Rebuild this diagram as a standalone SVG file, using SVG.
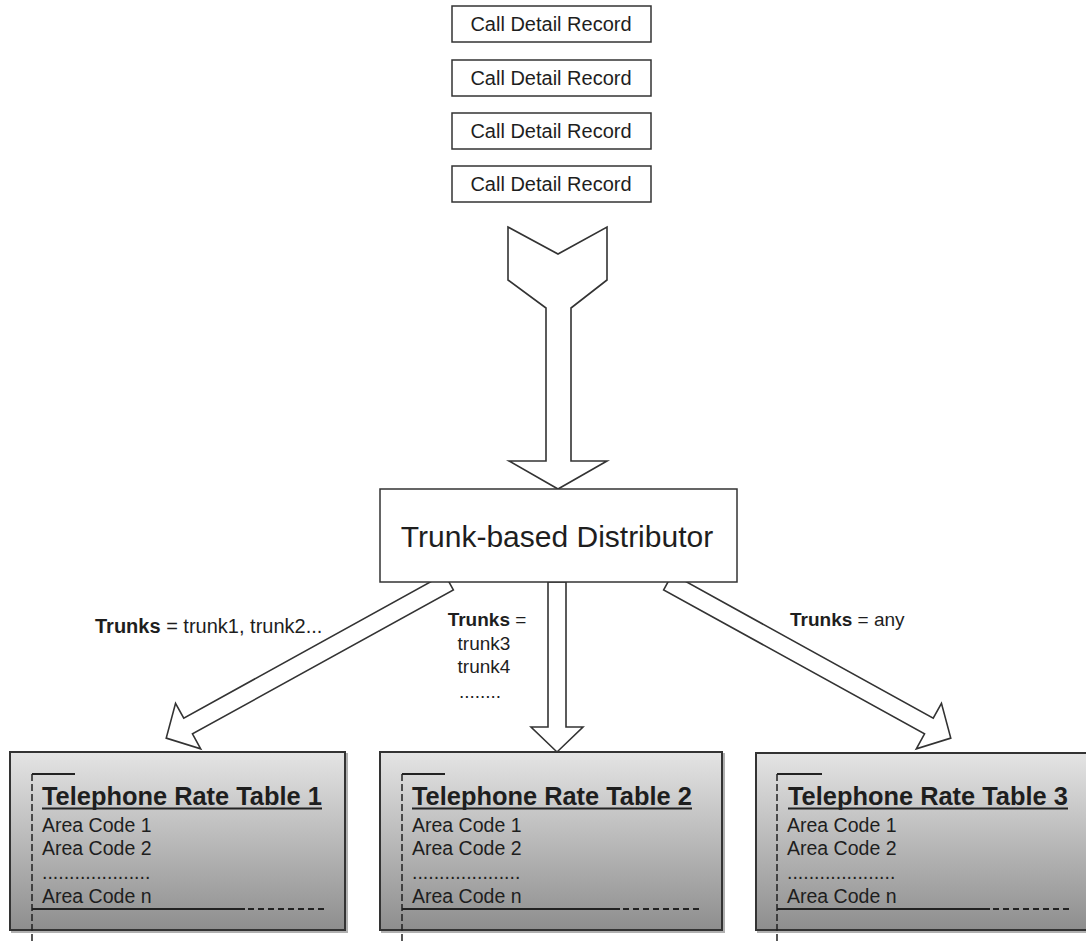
<svg xmlns="http://www.w3.org/2000/svg" width="1086" height="942" viewBox="0 0 1086 942">
  <defs>
    <linearGradient id="tableFill" x1="0" y1="0" x2="0" y2="1">
      <stop offset="0" stop-color="#e4e4e4"/>
      <stop offset="1" stop-color="#8e8e8e"/>
    </linearGradient>
    <style>
      .box { fill: #ffffff; stroke: #333333; stroke-width: 1.5; }
      .arrow { fill: #ffffff; stroke: #333333; stroke-width: 1.6; stroke-linejoin: miter; }
      .table { fill: url(#tableFill); stroke: #333333; stroke-width: 2; }
      .shadow { fill: none; stroke: #b0b0b0; stroke-width: 2; }
      .t { font-family: "Liberation Sans", Arial, sans-serif; fill: #1e1e1e; }
      .cdr { font-size: 20px; text-anchor: middle; }
      .dist { font-size: 30px; text-anchor: middle; }
      .lbl { font-size: 19px; }
      .lbl-wide { font-size: 20px; }
      .title { font-size: 25.4px; font-weight: bold; }
      .row { font-size: 19.5px; }
      .rule { stroke: #222222; stroke-width: 1.8; fill: none; }
      .dash { stroke: #222222; stroke-width: 1.8; fill: none; stroke-dasharray: 6 4; }
      .vdash { stroke: #222222; stroke-width: 1.5; fill: none; stroke-dasharray: 7 3; }
    </style>
  </defs>

  <!-- connectors: block arrows, drawn first so the distributor box covers the tails -->
  <g id="connectors">
    <path class="arrow" d="M508,227 L558,254 L607,227 L607,280 L571,308 L571,461 L607,461 L558,489 L509,461 L546,461 L546,308 L508,280 Z"/>
    <path class="arrow" transform="translate(449,582) rotate(61.1)" d="M-9,0 L9,0 L9,298 L26,298 L0,323 L-26,298 L-9,298 Z"/>
    <path class="arrow" transform="translate(557,582)" d="M-9,0 L9,0 L9,145 L26,145 L0,170 L-26,145 L-9,145 Z"/>
    <path class="arrow" transform="translate(668,582) rotate(-61.1)" d="M-9,0 L9,0 L9,298 L26,298 L0,323 L-26,298 L-9,298 Z"/>
  </g>

  <!-- call detail records -->
  <g id="cdr1">
    <rect class="box" x="452" y="6" width="199" height="36"/>
    <text class="t cdr" x="551" y="31">Call Detail Record</text>
  </g>
  <g id="cdr2">
    <rect class="box" x="452" y="60" width="199" height="36"/>
    <text class="t cdr" x="551" y="85">Call Detail Record</text>
  </g>
  <g id="cdr3">
    <rect class="box" x="452" y="113" width="199" height="36"/>
    <text class="t cdr" x="551" y="138">Call Detail Record</text>
  </g>
  <g id="cdr4">
    <rect class="box" x="452" y="166" width="199" height="36"/>
    <text class="t cdr" x="551" y="191">Call Detail Record</text>
  </g>

  <!-- distributor -->
  <g id="distributor">
    <rect class="box" x="380" y="489" width="357" height="93"/>
    <text class="t dist" x="557" y="547">Trunk-based Distributor</text>
  </g>

  <!-- routing conditions -->
  <g id="label-left">
    <text class="t lbl-wide" x="95" y="633"><tspan font-weight="bold">Trunks</tspan> = trunk1, trunk2...</text>
  </g>
  <g id="label-center">
    <text class="t lbl" text-anchor="middle" x="487" y="626"><tspan font-weight="bold">Trunks</tspan> =</text>
    <text class="t lbl" text-anchor="middle" x="484" y="650">trunk3</text>
    <text class="t lbl" text-anchor="middle" x="484" y="673">trunk4</text>
    <text class="t lbl" text-anchor="middle" x="480" y="698">........</text>
  </g>
  <g id="label-right">
    <text class="t lbl" x="790" y="626"><tspan font-weight="bold">Trunks</tspan> = any</text>
  </g>

  <!-- rate tables -->
  <g id="table1">
    <rect class="shadow" x="12" y="754" width="335" height="178"/>
    <rect class="table" x="10" y="752" width="335" height="178"/>
    <line class="rule" x1="32" y1="774" x2="75" y2="774"/>
    <line class="vdash" x1="32" y1="774" x2="32" y2="942"/>
    <text class="t title" x="42" y="805">Telephone Rate Table 1</text>
    <line class="rule" x1="42" y1="808.5" x2="322" y2="808.5"/>
    <text class="t row" x="42" y="832">Area Code 1</text>
    <text class="t row" x="42" y="855">Area Code 2</text>
    <text class="t row" x="42" y="879">....................</text>
    <text class="t row" x="42" y="903">Area Code n</text>
    <line class="rule" x1="32" y1="909" x2="245" y2="909"/>
    <line class="dash" x1="248" y1="909" x2="325" y2="909"/>
  </g>
  <g id="table2">
    <rect class="shadow" x="382" y="754" width="342" height="178"/>
    <rect class="table" x="380" y="752" width="342" height="178"/>
    <line class="rule" x1="402" y1="774" x2="445" y2="774"/>
    <line class="vdash" x1="402" y1="774" x2="402" y2="942"/>
    <text class="t title" x="412" y="805">Telephone Rate Table 2</text>
    <line class="rule" x1="412" y1="808.5" x2="692" y2="808.5"/>
    <text class="t row" x="412" y="832">Area Code 1</text>
    <text class="t row" x="412" y="855">Area Code 2</text>
    <text class="t row" x="412" y="879">....................</text>
    <text class="t row" x="412" y="903">Area Code n</text>
    <line class="rule" x1="402" y1="909" x2="620" y2="909"/>
    <line class="dash" x1="623" y1="909" x2="702" y2="909"/>
  </g>
  <g id="table3">
    <rect class="shadow" x="758" y="755" width="340" height="177"/>
    <rect class="table" x="756" y="753" width="340" height="177"/>
    <line class="rule" x1="777" y1="774" x2="822" y2="774"/>
    <line class="vdash" x1="777" y1="774" x2="777" y2="942"/>
    <text class="t title" x="788" y="805">Telephone Rate Table 3</text>
    <line class="rule" x1="788" y1="808.5" x2="1068" y2="808.5"/>
    <text class="t row" x="787" y="832">Area Code 1</text>
    <text class="t row" x="787" y="855">Area Code 2</text>
    <text class="t row" x="787" y="879">....................</text>
    <text class="t row" x="787" y="903">Area Code n</text>
    <line class="rule" x1="777" y1="909" x2="990" y2="909"/>
    <line class="dash" x1="993" y1="909" x2="1070" y2="909"/>
  </g>
</svg>
